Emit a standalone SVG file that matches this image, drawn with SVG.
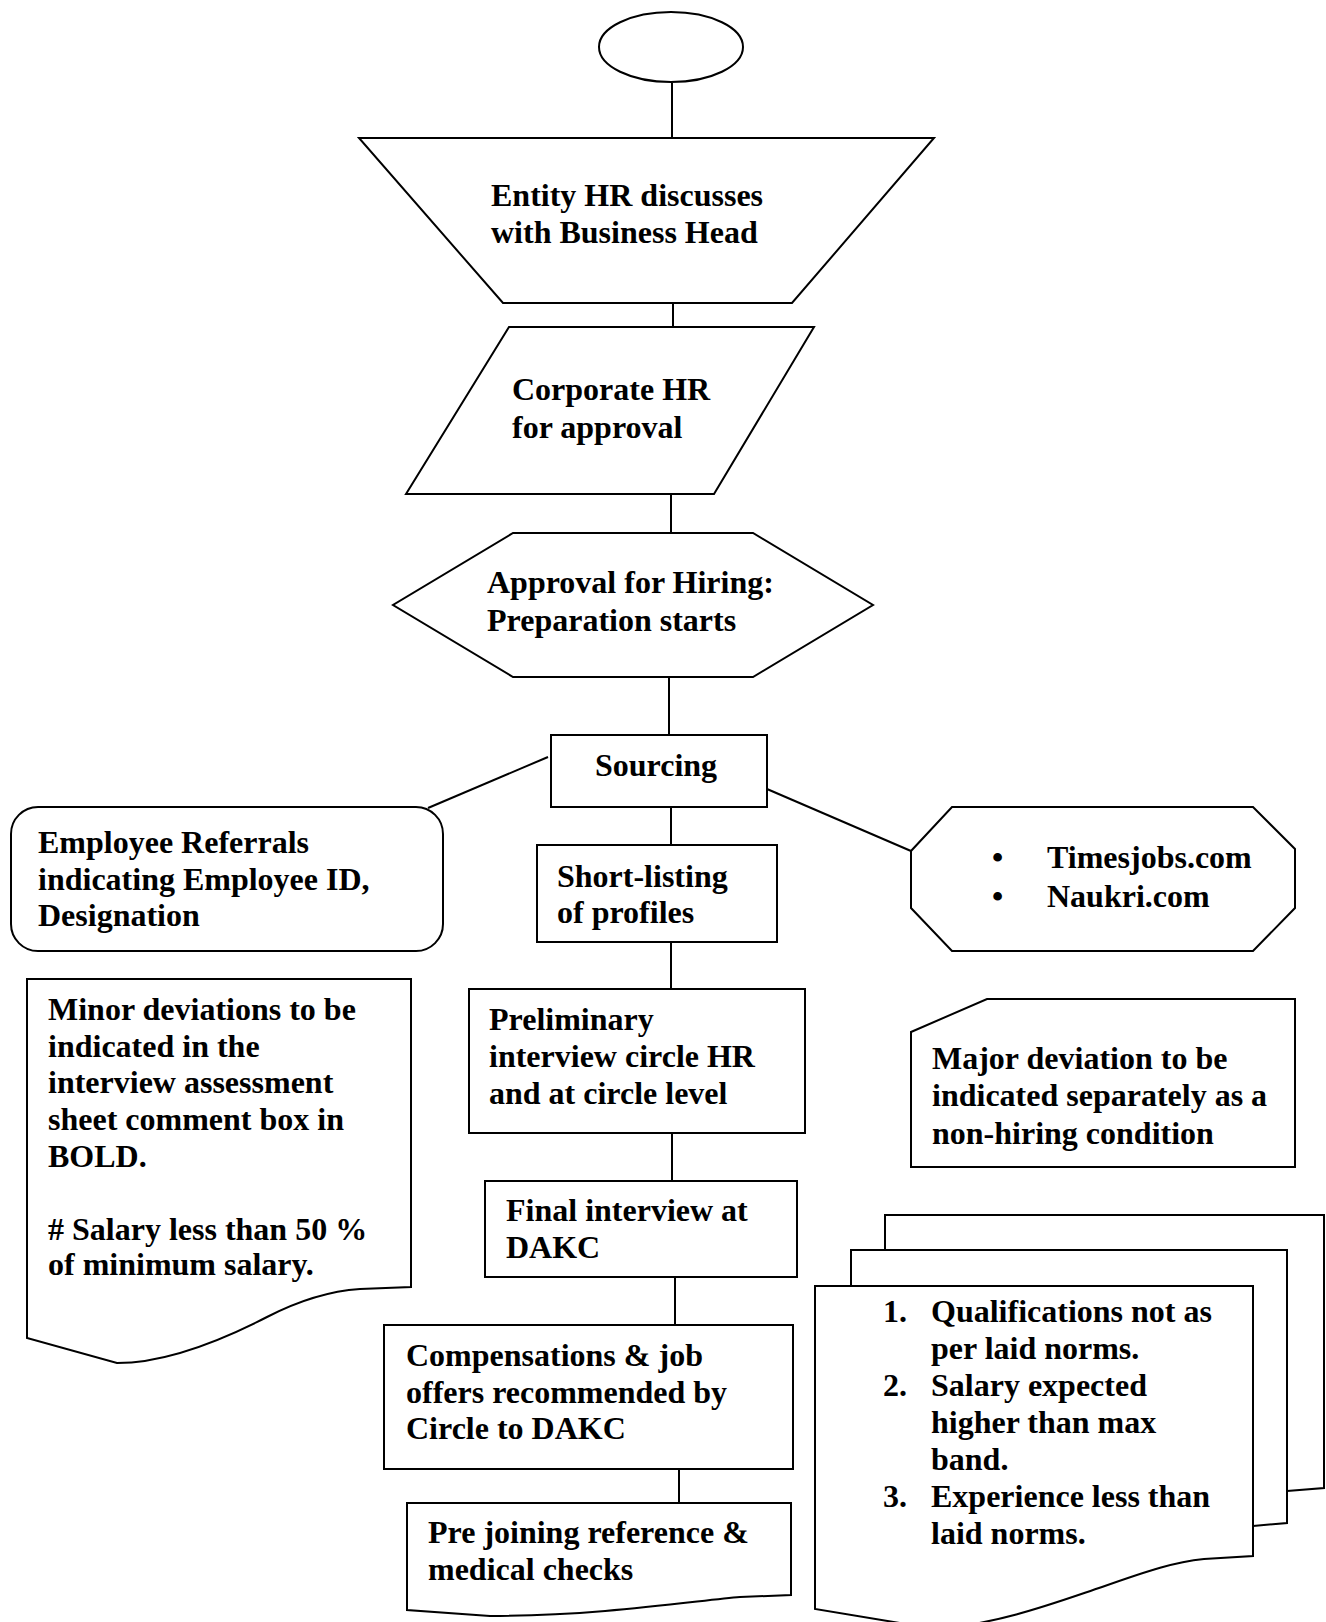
<svg xmlns="http://www.w3.org/2000/svg" width="1326" height="1622" viewBox="0 0 1326 1622">
<style>
.s{fill:#fff;stroke:#000;stroke-width:2}
.c{fill:none;stroke:#000;stroke-width:2}
text{font-family:"Liberation Serif","Times New Roman",serif;font-weight:bold;font-size:32px;fill:#000}
</style>
<rect width="1326" height="1622" fill="#fff"/>
<g id="connectors">
<line class="c" x1="672" y1="83" x2="672" y2="138"/>
<line class="c" x1="673" y1="303" x2="673" y2="327"/>
<line class="c" x1="671" y1="494" x2="671" y2="533"/>
<line class="c" x1="669" y1="677" x2="669" y2="735"/>
<line class="c" x1="548" y1="757" x2="428" y2="808"/>
<line class="c" x1="767" y1="789" x2="911" y2="851"/>
<line class="c" x1="671" y1="807" x2="671" y2="845"/>
<line class="c" x1="671" y1="942" x2="671" y2="989"/>
<line class="c" x1="672" y1="1133" x2="672" y2="1181"/>
<line class="c" x1="675" y1="1277" x2="675" y2="1325"/>
<line class="c" x1="679" y1="1469" x2="679" y2="1503"/>
</g>
<g id="start"><ellipse class="s" cx="671" cy="47" rx="72" ry="35"/></g>
<g id="entity-hr">
<polygon class="s" points="359,138 934,138 792,303 503,303"/>
<text x="491" y="206">Entity HR discusses</text>
<text x="491" y="243">with Business Head</text>
</g>
<g id="corporate-hr">
<polygon class="s" points="509,327 814,327 714,494 406,494"/>
<text x="512" y="400">Corporate HR</text>
<text x="512" y="438">for approval</text>
</g>
<g id="approval">
<polygon class="s" points="513,533 753,533 873,605 753,677 513,677 393,605"/>
<text x="487" y="593">Approval for Hiring:</text>
<text x="487" y="631">Preparation starts</text>
</g>
<g id="sourcing">
<rect class="s" x="551" y="735" width="216" height="72"/>
<text x="595" y="776">Sourcing</text>
</g>
<g id="referrals">
<rect class="s" x="11" y="807" width="432" height="144" rx="27" ry="27"/>
<text x="38" y="853">Employee Referrals</text>
<text x="38" y="890">indicating Employee ID,</text>
<text x="38" y="926">Designation</text>
</g>
<g id="shortlisting">
<rect class="s" x="537" y="845" width="240" height="97"/>
<text x="557" y="887">Short-listing</text>
<text x="557" y="923">of profiles</text>
</g>
<g id="portals">
<polygon class="s" points="952,807 1253,807 1295,849 1295,908 1253,951 952,951 911,908 911,851"/>
<text x="992" y="868">•</text>
<text x="1047" y="868">Timesjobs.com</text>
<text x="992" y="907">•</text>
<text x="1047" y="907">Naukri.com</text>
</g>
<g id="minor-deviations">
<path class="s" d="M27,979 H411 V1287 L360,1289 C330,1291 300,1300 267,1317 C230,1336 170,1363 117,1363 L27,1338 Z"/>
<text x="48" y="1020">Minor deviations to be</text>
<text x="48" y="1057">indicated in the</text>
<text x="48" y="1093">interview assessment</text>
<text x="48" y="1130">sheet comment box in</text>
<text x="48" y="1167">BOLD.</text>
<text x="48" y="1240"># Salary less than 50 %</text>
<text x="48" y="1275">of minimum salary.</text>
</g>
<g id="preliminary">
<rect class="s" x="469" y="989" width="336" height="144"/>
<text x="489" y="1030">Preliminary</text>
<text x="489" y="1067">interview circle HR</text>
<text x="489" y="1104">and at circle level</text>
</g>
<g id="major-deviation">
<polygon class="s" points="987,999 1295,999 1295,1167 911,1167 911,1032"/>
<text x="932" y="1069">Major deviation to be</text>
<text x="932" y="1106">indicated separately as a</text>
<text x="932" y="1144">non-hiring condition</text>
</g>
<g id="final-interview">
<rect class="s" x="485" y="1181" width="312" height="96"/>
<text x="506" y="1221">Final interview at</text>
<text x="506" y="1258">DAKC</text>
</g>
<g id="compensation">
<rect class="s" x="384" y="1325" width="409" height="144"/>
<text x="406" y="1366">Compensations &amp; job</text>
<text x="406" y="1403">offers recommended by</text>
<text x="406" y="1439">Circle to DAKC</text>
</g>
<g id="pre-joining">
<path class="s" d="M407,1503 H791 V1595 L740,1597 C700,1600 600,1616 490,1616 L407,1610 Z"/>
<text x="428" y="1543">Pre joining reference &amp;</text>
<text x="428" y="1580">medical checks</text>
</g>
<g id="non-hiring-list">
<path class="s" d="M885,1215 H1324 V1488 L1287,1491 C1250,1497 1200,1517 1150,1537 C1100,1553 1050,1556 1000,1556 L885,1537 Z"/>
<path class="s" d="M851,1250 H1287 V1523 L1253,1526 C1220,1531 1170,1549 1110,1569 C1060,1587 1010,1591 960,1591 L851,1572 Z"/>
<path class="s" d="M815,1286 H1253 V1556 L1204,1559 C1175,1562 1150,1570 1102,1587 C1060,1601 1000,1624 936,1629 L815,1609 Z"/>
<text x="883" y="1322">1.</text>
<text x="931" y="1322">Qualifications not as</text>
<text x="931" y="1359">per laid norms.</text>
<text x="883" y="1396">2.</text>
<text x="931" y="1396">Salary expected</text>
<text x="931" y="1433">higher than max</text>
<text x="931" y="1470">band.</text>
<text x="883" y="1507">3.</text>
<text x="931" y="1507">Experience less than</text>
<text x="931" y="1544">laid norms.</text>
</g>
</svg>
